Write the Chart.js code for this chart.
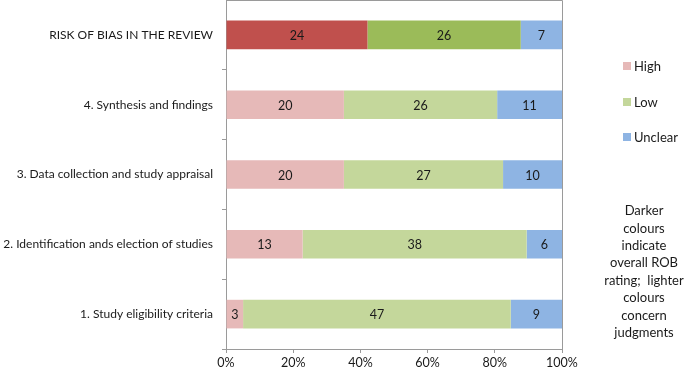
<!DOCTYPE html>
<html>
<head>
<meta charset="utf-8">
<script src="https://cdn.jsdelivr.net/npm/chart.js@4.4.1/dist/chart.umd.min.js"></script>
<style>
html,body{margin:0;padding:0;background:#fff;}
#wrap{position:relative;width:685px;height:370px;}
</style>
</head>
<body>
<div id="wrap"><canvas id="c" width="685" height="370"></canvas></div>
<script>
const categories = [
  'RISK OF BIAS IN THE REVIEW',
  '4. Synthesis and findings',
  '3. Data collection and study appraisal',
  '2. Identification ands election of studies',
  '1. Study eligibility criteria'
];
const highValues = [24, 20, 20, 13, 3];
const lowValues = [26, 26, 27, 38, 47];
const unclearValues = [7, 11, 10, 6, 9];
const xTickValues = [0, 20, 40, 60, 80, 100];
const seriesNames = ['High', 'Low', 'Unclear'];
const noteLines = ['Darker', 'colours', 'indicate', 'overall ROB', 'rating;  lighter', 'colours', 'concern', 'judgments'];

const FONT = 'Lato';
const totals = categories.map((_, i) => highValues[i] + lowValues[i] + unclearValues[i]);
const pct = arr => arr.map((v, i) => v / totals[i] * 100);

const dark = {High: '#C0504D', Low: '#9BBB59'};
const light = {High: '#E6B9B8', Low: '#C4D79B'};
const unclearColor = '#8EB4E3';
const colorsFor = name => categories.map((_, i) => i === 0 ? dark[name] : light[name]);

const raw = [highValues, lowValues, unclearValues];
const datasets = [
  {label: 'High', data: pct(highValues), backgroundColor: colorsFor('High')},
  {label: 'Low', data: pct(lowValues), backgroundColor: colorsFor('Low')},
  {label: 'Unclear', data: pct(unclearValues), backgroundColor: categories.map(() => unclearColor)}
].map(d => Object.assign(d, {barPercentage: 0.82, categoryPercentage: 0.5, borderWidth: 0}));

const extras = {
  id: 'extras',
  afterDatasetsDraw(chart) {
    const ctx = chart.ctx;
    const a = chart.chartArea;
    ctx.save();
    ctx.font = '12.5px ' + FONT;
    ctx.fillStyle = '#1a1a1a';
    ctx.textAlign = 'center';
    ctx.textBaseline = 'middle';
    chart.data.datasets.forEach((ds, di) => {
      chart.getDatasetMeta(di).data.forEach((el, i) => {
        const p = el.getProps(['x', 'base', 'y'], true);
        ctx.fillText(String(raw[di][i]), (p.x + p.base) / 2, p.y + 1);
      });
    });
    ctx.strokeStyle = '#9a9a9a';
    ctx.lineWidth = 1;
    ctx.beginPath();
    ctx.moveTo(a.left, Math.round(a.top) + 0.5);
    ctx.lineTo(Math.round(a.right) + 0.5, Math.round(a.top) + 0.5);
    ctx.lineTo(Math.round(a.right) + 0.5, a.bottom);
    ctx.stroke();
    const legY = [66, 102, 137];
    const legColors = [light.High, light.Low, unclearColor];
    ctx.font = '13px ' + FONT;
    ctx.textAlign = 'left';
    seriesNames.forEach((n, i) => {
      ctx.fillStyle = legColors[i];
      ctx.fillRect(623, legY[i] - 4, 8, 8);
      ctx.fillStyle = '#1a1a1a';
      ctx.fillText(n, 634, legY[i] + 1);
    });
    ctx.textAlign = 'center';
    noteLines.forEach((t, i) => {
      ctx.fillText(t, 644, 211 + i * 17.4);
    });
    ctx.restore();
  }
};

new Chart(document.getElementById('c'), {
  type: 'bar',
  data: {labels: categories, datasets},
  options: {
    indexAxis: 'y',
    responsive: false,
    animation: false,
    layout: {padding: {top: 0, right: 123, bottom: 0, left: 0}},
    plugins: {legend: {display: false}, tooltip: {enabled: false}},
    scales: {
      x: {
        stacked: true,
        min: 0, max: 100,
        afterBuildTicks: s => { s.ticks = xTickValues.map(v => ({value: v})); },
        afterFit: s => { s.height = 21; s.paddingLeft = 0; s.paddingRight = 0; },
        grid: {drawOnChartArea: false, drawTicks: true, tickLength: 4, color: '#9a9a9a'},
        border: {display: true, color: '#9a9a9a'},
        ticks: {padding: 2, color: '#1a1a1a', font: {family: FONT, size: 12.5}, callback: v => v + '%', maxRotation: 0}
      },
      y: {
        stacked: true,
        afterFit: s => { s.width = 226; s.paddingTop = 0; s.paddingBottom = 0; },
        grid: {offset: true, drawOnChartArea: false, drawTicks: true, tickLength: 4, color: '#9a9a9a'},
        border: {display: true, color: '#9a9a9a'},
        ticks: {padding: 9, color: '#1a1a1a', font: {family: FONT, size: 12}}
      }
    }
  },
  plugins: [extras]
});
</script>
</body>
</html>
